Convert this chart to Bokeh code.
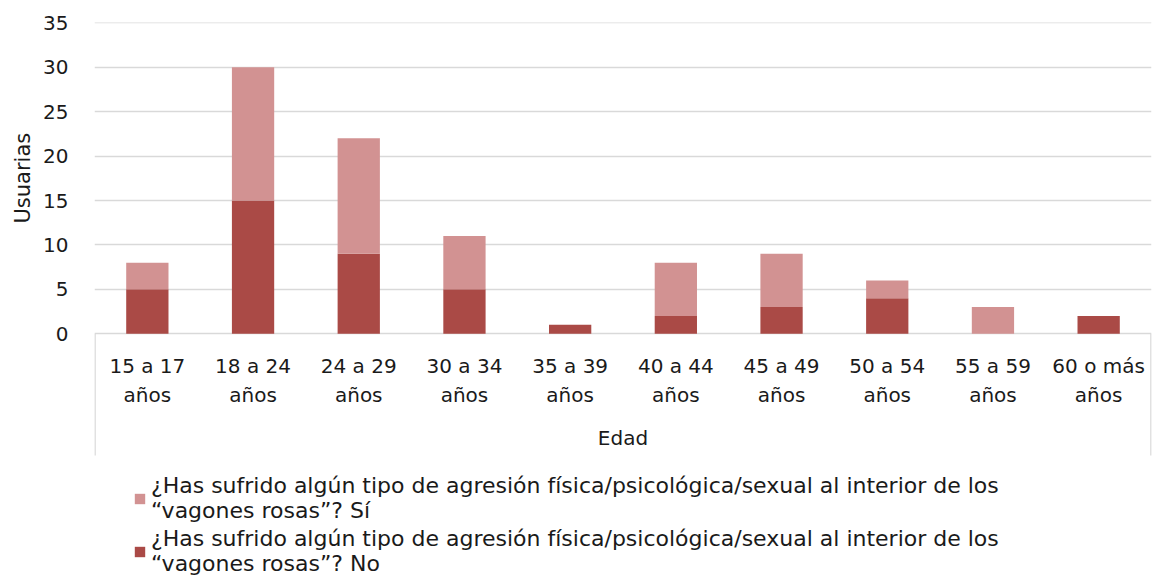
from bokeh.plotting import figure
from bokeh.models import (FactorRange, Range1d, FixedTicker, Legend, LegendItem,
                          ColumnDataSource, Title)
from bokeh.core.properties import value
from bokeh.embed import file_html
from bokeh.resources import INLINE

categories = ["15 a 17 años", "18 a 24 años", "24 a 29 años", "30 a 34 años",
              "35 a 39 años", "40 a 44 años", "45 a 49 años", "50 a 54 años",
              "55 a 59 años", "60 o más años"]
label_line1 = ["15 a 17", "18 a 24", "24 a 29", "30 a 34", "35 a 39",
               "40 a 44", "45 a 49", "50 a 54", "55 a 59", "60 o más"]
label_line2 = ["años"] * 10
no_vals = [5, 15, 9, 5, 1, 2, 3, 4, 0, 2]
si_vals = [3, 15, 13, 6, 0, 6, 6, 2, 3, 0]
y_ticks = [0, 5, 10, 15, 20, 25, 30, 35]

series_si = "¿Has sufrido algún tipo de agresión física/psicológica/sexual al interior de los\n“vagones rosas”? Sí"
series_no = "¿Has sufrido algún tipo de agresión física/psicológica/sexual al interior de los\n“vagones rosas”? No"

FONT = "DejaVu Sans"
TXT = "#1a1a1a"
DARK = "#AA4A46"
LIGHT = "#D29292"
GRID = "#D9D9D9"

src = ColumnDataSource(dict(cat=categories, no=no_vals, si=si_vals,
                            l1=label_line1, l2=label_line2))

p = figure(width=1153, height=577, output_backend="svg", toolbar_location=None,
           x_range=FactorRange(*categories, range_padding=0),
           y_range=Range1d(-27.46, 35.05),
           min_border_left=94, min_border_right=2, min_border_top=22,
           min_border_bottom=0)
p.outline_line_color = None
p.background_fill_color = "white"

rs = p.vbar_stack(["no", "si"], x="cat", width=0.4, source=src,
                  color=[DARK, LIGHT], line_color=None)

p.xaxis.visible = False
p.xgrid.grid_line_color = None
p.ygrid.ticker = FixedTicker(ticks=y_ticks)
p.ygrid.grid_line_color = GRID
p.ygrid.grid_line_width = 1.3

ya = p.yaxis[0]
ya.ticker = FixedTicker(ticks=y_ticks)
ya.axis_line_color = None
ya.major_tick_line_color = None
ya.minor_tick_line_color = None
ya.major_label_text_font = FONT
ya.major_label_text_font_size = "20px"
ya.major_label_text_color = TXT
ya.major_label_standoff = 20

p.add_layout(Title(text="Usuarias", align="left", offset=354,
                   text_font=FONT, text_font_size="21px",
                   text_font_style="normal", text_color=TXT,
                   standoff=12), "left")

# bracket lines of the category axis
n = len(categories)
p.segment(x0=[0.005, n - 0.005], y0=[0, 0], x1=[0.005, n - 0.005], y1=[-13.73, -13.73],
          line_color=GRID, line_width=1.5)

# category labels
p.text(x="cat", y=-3.6, text="l1", source=src, text_font=value(FONT),
       text_font_size="20px", text_color=TXT, text_align="center",
       text_baseline="middle")
p.text(x="cat", y=-6.95, text="l2", source=src, text_font=value(FONT),
       text_font_size="20px", text_color=TXT, text_align="center",
       text_baseline="middle")
p.text(x=[n / 2], y=[-11.8], text=["Edad"], text_font=value(FONT),
       text_font_size="20px", text_color=TXT, text_align="center",
       text_baseline="middle")

legend = Legend(items=[LegendItem(label=series_si, renderers=[rs[1]]),
                       LegendItem(label=series_no, renderers=[rs[0]])],
                location=(39, 1), orientation="vertical",
                glyph_width=13, glyph_height=13, label_standoff=5,
                spacing=3, padding=0, margin=0,
                label_text_font=FONT, label_text_font_size="22px",
                label_text_line_height=1.05,
                label_text_color=TXT, border_line_alpha=0,
                background_fill_alpha=0)
p.add_layout(legend, "center")

open("out.html", "w").write(file_html(p, INLINE))
